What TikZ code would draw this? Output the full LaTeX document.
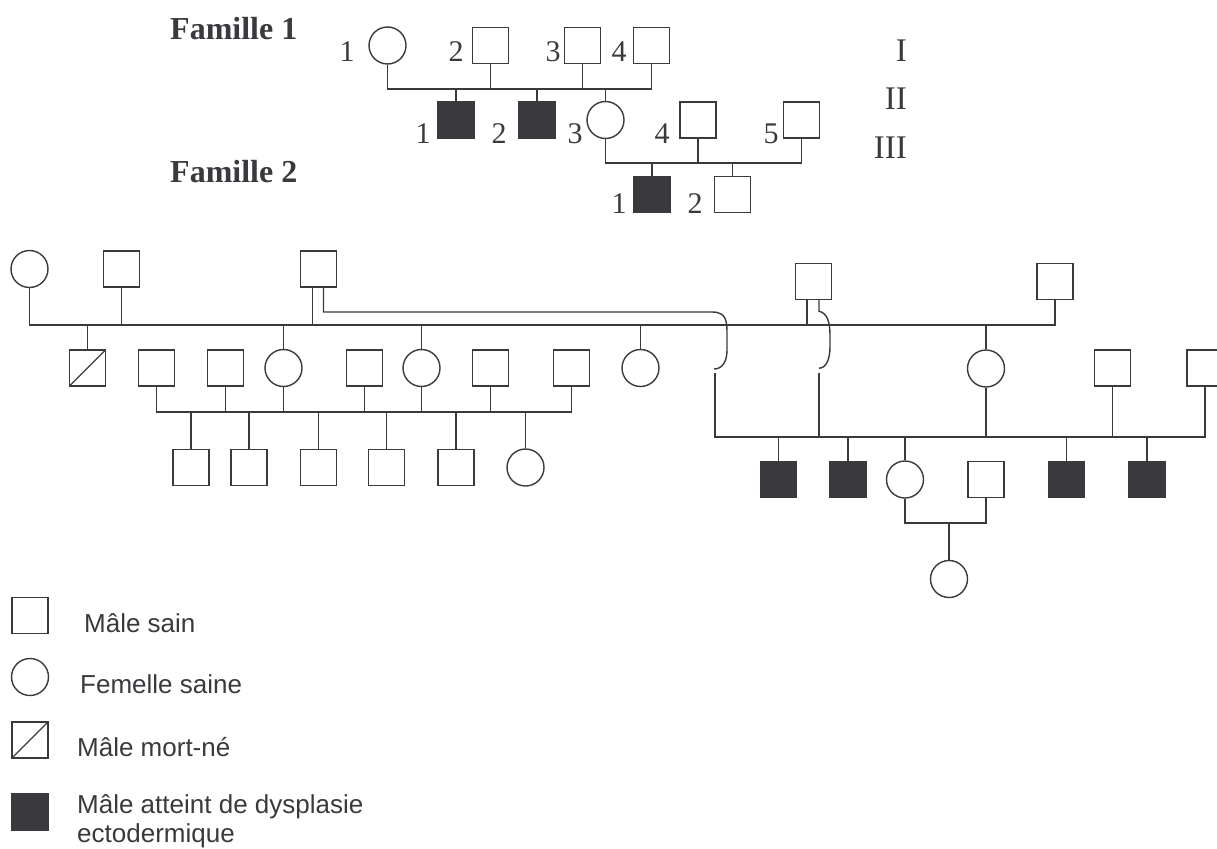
\documentclass[tikz,border=0pt]{standalone}
\usepackage{fontspec}
\setmainfont{Liberation Serif}
\newfontfamily\legendfont{Liberation Sans}
\usetikzlibrary{calc}
\definecolor{ink}{HTML}{3A393D}
\begin{document}
\begin{tikzpicture}[x=1pt,y=-1pt]
    \tikzstyle{male} = [rectangle, draw=ink, line width=1.4pt, minimum size=36pt,
        inner sep=0pt]
    \tikzstyle{female} = [circle, draw=ink, line width=1.4pt, minimum size=37pt,
        inner sep=0pt]
    \tikzstyle{sick} = [male, fill=ink]
    \tikzstyle{dead} = [male, path picture={\draw[ink, line width=1.4pt]
        (path picture bounding box.south west) --
        (path picture bounding box.north east);}]
    \tikzstyle{num} = [anchor=base, inner sep=0pt, text=ink,
        font=\fontsize{30}{32}\selectfont]
    \tikzstyle{gen} = [anchor=base east, inner sep=0pt, text=ink,
        font=\fontsize{33}{35}\selectfont]
    \tikzstyle{title} = [anchor=base west, inner sep=0pt, text=ink,
        font=\bfseries\fontsize{32}{34}\selectfont]
    \tikzstyle{legend} = [anchor=base west, inner sep=0pt, text=ink,
        font=\legendfont\fontsize{26}{30}\selectfont]
    \tikzstyle{link} = [draw=ink, line width=1.4pt]

    \useasboundingbox (0,0) rectangle (1217,848);

    \node(title1) [title] at (170,40) {Famille 1};
    \node(title2) [title] at (170,182) {Famille 2};
    \node(genI) [gen] at (907,62) {I};
    \node(genII) [gen] at (907,110) {II};
    \node(genIII) [gen] at (907,158) {III};

    \node(f1I1) [female] at (387.5,45.5) {};
    \node(f1I2) [male] at (490.5,45.5) {};
    \node(f1I3) [male] at (582.5,45.5) {};
    \node(f1I4) [male] at (651.5,45.5) {};
    \node(f1II1) [sick] at (456,120) {};
    \node(f1II2) [sick] at (537,120) {};
    \node(f1II3) [female] at (605.5,120) {};
    \node(f1II4) [male] at (698,120) {};
    \node(f1II5) [male] at (801.5,120) {};
    \node(f1III1) [sick] at (652,194.5) {};
    \node(f1III2) [male] at (732.5,194.5) {};

    \node(nI1) [num] at (347,62) {1};
    \node(nI2) [num] at (456,62) {2};
    \node(nI3) [num] at (553,62) {3};
    \node(nI4) [num] at (619,62) {4};
    \node(nII1) [num] at (423,143) {1};
    \node(nII2) [num] at (499,143) {2};
    \node(nII3) [num] at (575,143) {3};
    \node(nII4) [num] at (662,143) {4};
    \node(nII5) [num] at (771,143) {5};
    \node(nIII1) [num] at (619,213) {1};
    \node(nIII2) [num] at (695,213) {2};

    \coordinate (f1m1) at (0,89);
    \coordinate (f1m2) at (0,163);
    \draw[link] (f1I1.south) |- (f1I4.south |- f1m1) -- (f1I4.south);
    \draw[link] (f1I2.south) -- (f1I2.south |- f1m1);
    \draw[link] (f1I3.south) -- (f1I3.south |- f1m1);
    \foreach \k in {II1,II2,II3}
        \draw[link] (f1\k.north) -- (f1\k.north |- f1m1);
    \draw[link] (f1II3.south) |- (f1II5.south |- f1m2) -- (f1II5.south);
    \draw[link] (f1II4.south) -- (f1II4.south |- f1m2);
    \foreach \k in {III1,III2}
        \draw[link] (f1\k.north) -- (f1\k.north |- f1m2);

    \node(a1) [female] at (29.5,269) {};
    \node(a2) [male] at (121.5,269) {};
    \node(a3) [male] at (318.5,269) {};
    \node(b1) [male] at (813.5,281.5) {};
    \node(b2) [male] at (1055,281.5) {};

    \node(c1) [dead] at (87.5,368) {};
    \node(c2) [male] at (156.5,368) {};
    \node(c3) [male] at (225.5,368) {};
    \node(c4) [female] at (283.5,368) {};
    \node(c5) [male] at (364.5,368) {};
    \node(c6) [female] at (421.5,368) {};
    \node(c7) [male] at (490.5,368) {};
    \node(c8) [male] at (571.5,368) {};
    \node(c9) [female] at (640.5,368) {};
    \node(d1) [female] at (986,368.5) {};
    \node(d2) [male] at (1112.5,368) {};
    \node(d3) [male] at (1205,368) {};

    \node(e1) [male] at (191,467.5) {};
    \node(e2) [male] at (249,467.5) {};
    \node(e3) [male] at (318.5,467.5) {};
    \node(e4) [male] at (386.5,467.5) {};
    \node(e5) [male] at (456,467.5) {};
    \node(e6) [female] at (525.5,467.5) {};

    \node(g1) [sick] at (778.5,479.5) {};
    \node(g2) [sick] at (848,479.5) {};
    \node(g3) [female] at (905,479.5) {};
    \node(g4) [male] at (986,479.5) {};
    \node(g5) [sick] at (1066.5,479.5) {};
    \node(g6) [sick] at (1147,479.5) {};
    \node(h1) [female] at (949,579) {};

    \coordinate (mainline) at (0,325);
    \coordinate (leftline) at (0,412);
    \coordinate (rightline) at (0,437);
    \coordinate (lowline) at (0,523);
    \coordinate (a3l) at ([xshift=-6pt]a3.south);
    \coordinate (a3r) at ([xshift=5pt]a3.south);
    \coordinate (b1l) at ([xshift=-6.5pt]b1.south);
    \coordinate (b1r) at ([xshift=5.5pt]b1.south);
    \coordinate (hopatop) at (712,312);
    \coordinate (hopabot) at (715,373);
    \coordinate (hopbbot) at (819,373);

    \draw[link] (a1.south) |- (b2.south |- mainline) -- (b2.south);
    \draw[link] (a2.south) -- (a2.south |- mainline);
    \draw[link] (a3l) -- (a3l |- mainline);
    \draw[link] (b1l) -- (b1l |- mainline);
    \foreach \k in {c1,c4,c6,c9,d1}
        \draw[link] (\k.north) -- (\k.north |- mainline);

    \draw[link] (a3r) |- (hopatop) .. controls +(15,0) and +(0,-13) .. ++(15,23)
        -- ++(0,15) .. controls +(0,12) and +(8,0) .. ++(-13,19);
    \draw[link] (b1r) -- ++(0,11) .. controls +(8,2) and +(0,-14) .. ++(11,24)
        -- ++(0,12) .. controls +(0,12) and +(7,0) .. ++(-11,21);

    \draw[link] (c2.south) |- (c8.south |- leftline) -- (c8.south);
    \foreach \k in {c3,c4,c5,c6,c7}
        \draw[link] (\k.south) -- (\k.south |- leftline);
    \foreach \k in {e1,e2,e3,e4,e5,e6}
        \draw[link] (\k.north) -- (\k.north |- leftline);

    \draw[link] (hopabot) |- (d3.south |- rightline) -- (d3.south);
    \draw[link] (hopbbot) -- (hopbbot |- rightline);
    \foreach \k in {d1,d2}
        \draw[link] (\k.south) -- (\k.south |- rightline);
    \foreach \k in {g1,g2,g3,g5,g6}
        \draw[link] (\k.north) -- (\k.north |- rightline);

    \draw[link] (g3.south) |- (g4.south |- lowline) -- (g4.south);
    \draw[link] (h1.north) -- (h1.north |- lowline);

    \node(lmale) [male] at (30,615.5) {};
    \node(lfemale) [female] at (30,677) {};
    \node(ldead) [dead] at (30,740) {};
    \node(lsick) [sick] at (30,812) {};
    \node(tmale) [legend] at (84,632) {Mâle sain};
    \node(tfemale) [legend] at (80,693) {Femelle saine};
    \node(tdead) [legend] at (77,756) {Mâle mort-né};
    \node(tsick) [legend] at (77,813) {Mâle atteint de dysplasie};
    \node(tsick2) [legend] at ([yshift=-29pt]tsick.base west) {ectodermique};
\end{tikzpicture}
\end{document}
